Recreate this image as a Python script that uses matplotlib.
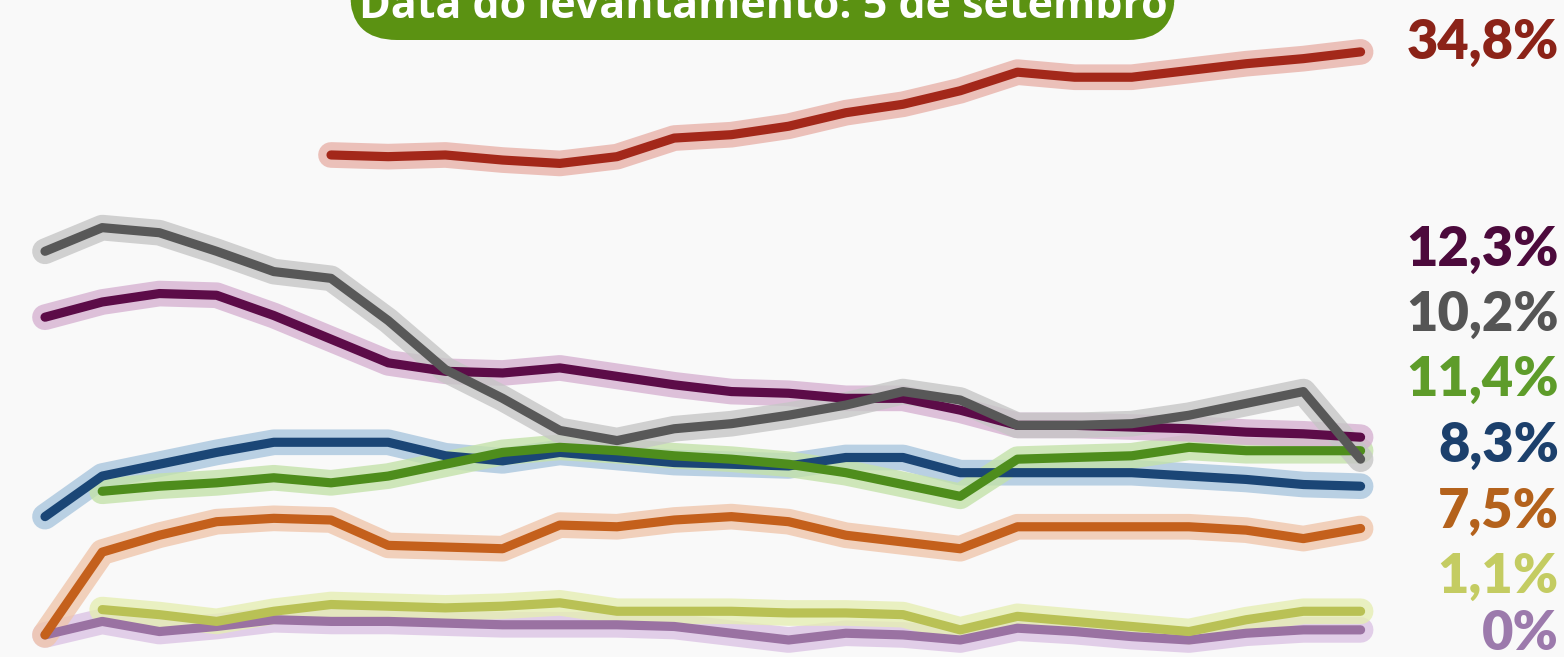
import matplotlib
matplotlib.use("Agg")
import matplotlib.pyplot as plt
from matplotlib.patches import FancyBboxPatch
import numpy as np

# ---- data (percent), 24 consecutive polls ----
n_polls = 24
poll_index = list(range(n_polls))

red = [None]*5 + [28.7, 28.6, 28.7, 28.4, 28.2, 28.6, 29.7, 29.9, 30.4, 31.2, 31.7, 32.5,
                  33.6, 33.3, 33.3, 33.7, 34.1, 34.4, 34.8]
gray = [23.0, 24.4, 24.1, 23.0, 21.8, 21.4, 18.9, 16.0, 14.3, 12.4, 11.8, 12.5,
        12.8, 13.3, 13.9, 14.7, 14.2, 12.7, 12.7, 12.8, 13.3, 14.0, 14.7, 10.7]
purple = [19.1, 20.0, 20.5, 20.4, 19.2, 17.8, 16.4, 15.9, 15.8, 16.1, 15.6, 15.1,
          14.7, 14.6, 14.3, 14.3, 13.6, 12.7, 12.7, 12.6, 12.5, 12.3, 12.2, 12.0]
blue = [7.3, 9.7, 10.4, 11.1, 11.7, 11.7, 11.7, 10.9, 10.6, 11.1, 10.8, 10.5,
        10.4, 10.3, 10.8, 10.8, 9.9, 9.9, 9.9, 9.9, 9.7, 9.5, 9.2, 9.1]
green = [None, 8.8, 9.1, 9.3, 9.6, 9.3, 9.7, 10.4, 11.1, 11.4, 11.2, 10.9,
         10.7, 10.4, 9.9, 9.2, 8.5, 10.7, 10.8, 10.9, 11.4, 11.2, 11.2, 11.2]
orange = [0.3, 5.2, 6.2, 7.0, 7.2, 7.1, 5.6, 5.5, 5.4, 6.8, 6.7, 7.1,
          7.3, 7.0, 6.2, 5.8, 5.4, 6.7, 6.7, 6.7, 6.7, 6.5, 6.0, 6.6]
olive = [None, 1.8, 1.5, 1.1, 1.7, 2.1, 2.0, 1.9, 2.0, 2.2, 1.7, 1.7,
         1.7, 1.6, 1.6, 1.5, 0.6, 1.4, 1.1, 0.8, 0.5, 1.2, 1.7, 1.7]
lilac = [0.3, 1.1, 0.5, 0.8, 1.2, 1.1, 1.1, 1.0, 0.9, 0.9, 0.9, 0.8,
         0.4, 0.0, 0.4, 0.3, 0.0, 0.7, 0.5, 0.2, 0.0, 0.4, 0.6, 0.6]

end_labels = ["34,8%", "12,3%", "10,2%", "11,4%", "8,3%", "7,5%", "1,1%", "0%"]
title_text = "Data do levantamento: 5 de setembro"

# ---- styles ----
series = [
    (lilac,  "#9a72a2", "#dcc4e4"),
    (olive,  "#b9c155", "#e6eeb4"),
    (orange, "#c4601c", "#f0c6ac"),
    (blue,   "#1b4676", "#aac6de"),
    (green,  "#4e8d1c", "#c4e2aa"),
    (purple, "#5c0c48", "#d6b2d2"),
    (gray,   "#585858", "#c6c6c6"),
    (red,    "#a3281a", "#e8b2aa"),
]
label_colors = ["#8b2318", "#4c0a3c", "#555555", "#5e9c2a", "#1c406c",
                "#b4621c", "#c4cc62", "#9c7aac"]
label_y_px = [43, 250, 315, 380, 446, 512, 577, 634]

W, H = 1564, 657
fig = plt.figure(figsize=(W/100, H/100), dpi=100)
bg = "#f9f9f9"
fig.patch.set_facecolor(bg)
ax = fig.add_axes([0, 0, 1, 1])
ax.set_facecolor(bg)

x0_px, dx_px = 45, 57.2
y0_px, dy_px = 640, 16.9
ax.set_xlim(-x0_px/dx_px, (W - x0_px)/dx_px)
ax.set_ylim((y0_px - H)/dy_px, y0_px/dy_px)
ax.axis("off")

x = np.array(poll_index, dtype=float)
for vals, c, halo in series:
    y = np.array([np.nan if v is None else v for v in vals], dtype=float)
    ax.plot(x, y, color=halo, lw=18.5, alpha=0.8, solid_capstyle="round",
            solid_joinstyle="round", zorder=2)
    ax.plot(x, y, color=c, lw=6.6, solid_capstyle="round",
            solid_joinstyle="round", zorder=3)

# green title box, cut off at top (as in the reference)
box = FancyBboxPatch((350/W, 1 - 40/H), 825/W, 80/H,
                     boxstyle="round,pad=0,rounding_size=0.03",
                     transform=fig.transFigure, facecolor="#5b9212",
                     edgecolor="none", zorder=4, mutation_aspect=W/H)
fig.patches.append(box)
fig.text(763/W, 1 - 6/H, title_text, ha="center", va="center",
         fontsize=31, fontweight="bold", color="white",
         family="Open Sans", zorder=5)

for lab, col, ypx in zip(end_labels, label_colors, label_y_px):
    fig.text(1559/W, 1 - ypx/H, lab, ha="right", va="center",
             fontsize=39, fontweight="heavy", color=col, family="Lato")

fig.savefig("out.png", dpi=100, facecolor=bg)
